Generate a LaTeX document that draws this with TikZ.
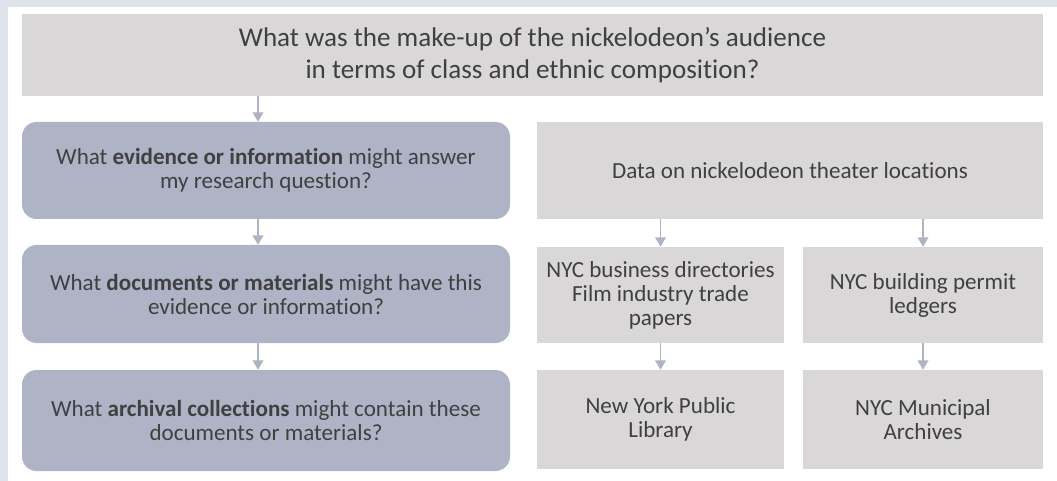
\documentclass[tikz,border=0pt]{standalone}
\usepackage{fontspec}
\setmainfont[Ligatures=NoCommon]{Carlito}
\usetikzlibrary{arrows.meta, positioning}
\definecolor{pagebg}{RGB}{223,227,236}
\definecolor{qcol}{RGB}{174,179,198}
\definecolor{anscol}{RGB}{217,215,216}
\definecolor{txtcol}{RGB}{64,64,64}

\begin{document}
\begin{tikzpicture}[
                        x=0.75pt, y=-0.75pt,
                        font=\fontsize{17.3}{18}\selectfont,
                        >={Triangle[width=8pt,length=7pt]},
                        box/.style={
                                rectangle, align=center,
                                text=txtcol, inner sep=4pt
                            },
                        question/.style={
                                box, fill=qcol, rounded corners=11pt,
                                minimum width=366pt
                            },
                        answer/.style={box, fill=anscol},
                        smallans/.style={answer, minimum width=185.25pt},
                        arrow/.style={->, line width=1pt, draw=qcol}
                    ]

                    % ===== Page =====
                    \fill[pagebg] (0,0) rectangle (1057,481);
                    \fill[white] (8,7) rectangle (1057,481);

                    % ===== Research question =====
                    \node[answer, minimum width=765.75pt, minimum height=61.5pt,
                    font=\fontsize{20.3}{24}\selectfont] (rq) at (532.5,55) {
                    What was the make-up of the nickelodeon's audience\\
                    in terms of class and ethnic composition?
                    };

                    % ===== Questions (left column) =====
                    \node[question, minimum height=72.75pt] (evid) at (266,170.5) {
                    What \textbf{evidence or information} might answer\\my research question?
                    };
                    \node[question, minimum height=73.5pt] (docs) at (266,294) {
                    What \textbf{documents or materials} might have this\\evidence or information?
                    };
                    \node[question, minimum height=75.75pt] (coll) at (266,420.5) {
                    What \textbf{archival collections} might contain these\\documents or materials?
                    };

                    % ===== Answers (right column) =====
                    \node[answer, minimum width=379.5pt, minimum height=72.75pt] (data) at (790,170.5)
                    {Data on nickelodeon theater locations};

                    \node[smallans, minimum height=72pt] (dirs) at (660.5,295)
                    {NYC business directories\\Film industry trade\\papers};
                    \node[smallans, minimum width=180pt, minimum height=72pt] (permit) at (923,295)
                    {NYC building permit\\ledgers};

                    \node[smallans, minimum height=74.25pt] (nypl) at (660.5,419.5)
                    {New York Public\\Library};
                    \node[smallans, minimum width=180pt, minimum height=74.25pt] (archives) at (923,419.5)
                    {NYC Municipal\\Archives};

                    % ===== Arrows =====
                    \draw[arrow] (rq.south -| 258,0) -- (evid.north -| 258,0);
                    \draw[arrow] (evid.south -| 258,0) -- (docs.north -| 258,0);
                    \draw[arrow] (docs.south -| 258,0) -- (coll.north -| 258,0);

                    \draw[arrow] (data.south -| dirs.north) -- (dirs.north);
                    \draw[arrow] (data.south -| permit.north) -- (permit.north);
                    \draw[arrow] (dirs.south) -- (nypl.north);
                    \draw[arrow] (permit.south) -- (archives.north);

                \end{tikzpicture}
\end{document}
